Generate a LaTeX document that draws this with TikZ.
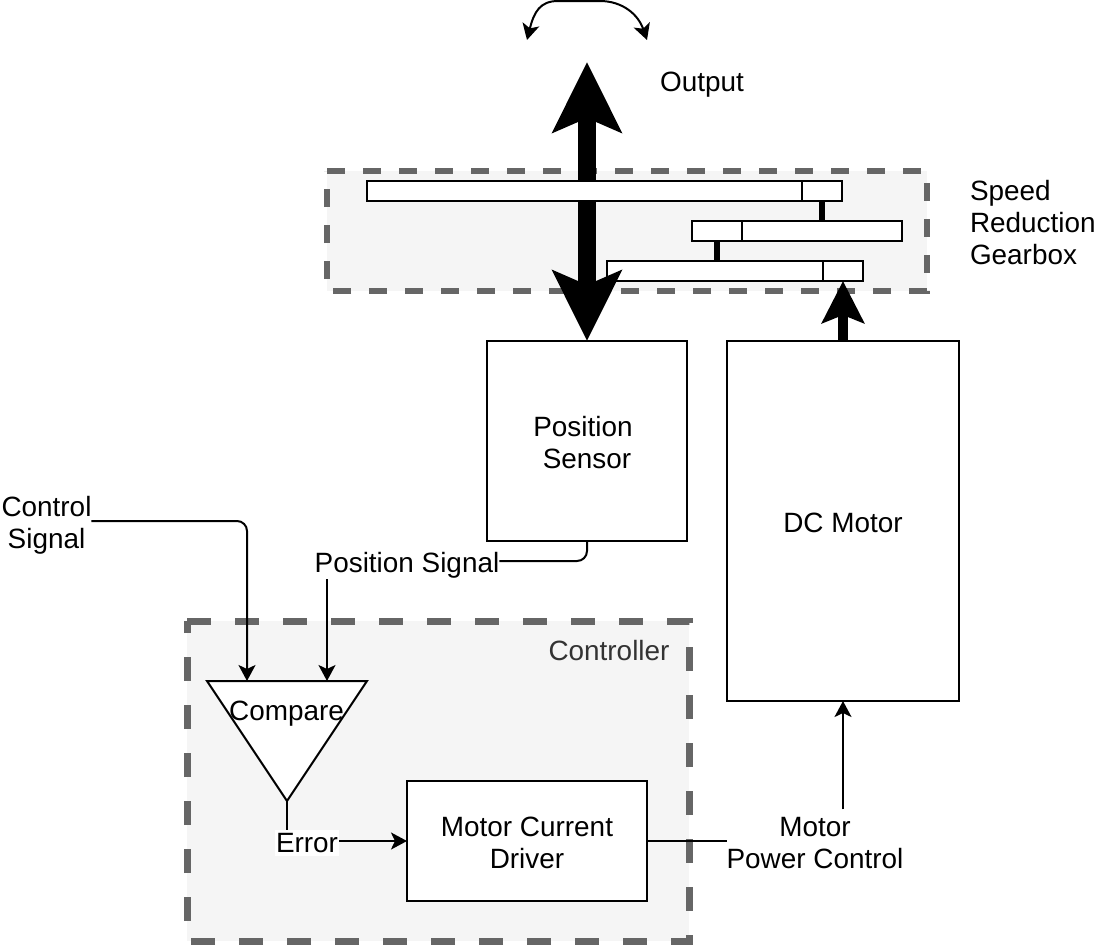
\documentclass[tikz,border=0pt]{standalone}
\usepackage{fontspec}
\setmainfont{Liberation Sans}
\usetikzlibrary{arrows.meta}
\usetikzlibrary{positioning}
\newcommand{\lowered}{\rule{0pt}{24pt}}

\begin{document}
\begin{tikzpicture}[x=1pt,y=-1pt,>={Stealth[length=16pt,width=17pt,inset=4pt]},line width=2pt,
	font=\fontsize{27.9}{32}\selectfont]
\tikzstyle{v}=[inner sep=0pt,outer sep=0pt,align=center]
\tikzstyle{block}=[v,draw,fill=white,anchor=north west]
\tikzstyle{gear}=[block,minimum height=20pt]
\tikzstyle{group}=[fill=black!4,draw=black!60,line join=miter]
\tikzstyle{link}=[line width=6pt]
\tikzstyle{shaft}=[line width=18pt,{Stealth[length=70pt,width=68pt,inset=14pt]}-{Stealth[length=70pt,width=68pt,inset=14pt]}]
\tikzstyle{drive}=[line width=10pt,-{Stealth[length=42pt,width=42pt,inset=8pt]}]
\useasboundingbox (0,0) rectangle (1096,946);
% groups
\draw[group,line width=5.5pt,dash pattern=on 18pt off 18pt] (327,171) -- (927,171) -- (927,291) -- (327,291) -- cycle;
\draw[group,line width=7pt,dash pattern=on 24pt off 24pt] (187,621) -- (689,621) -- (689,941) -- (187,941) -- cycle;
% blocks
\node[block,minimum width=200pt,minimum height=200pt]	(Sensor)	at (487,341)	{\lowered Position\hspace*{8pt}\\Sensor};
\node[block,minimum width=232pt,minimum height=360pt]	(Motor)		at (727,341)	{\lowered DC Motor};
\node[block,minimum width=240pt,minimum height=120pt]	(Driver)	at (407,781)	{\lowered Motor Current\\Driver};
% gears
\node[gear,minimum width=216pt]	(G3a)	at (607,261)	{};
\node[gear,minimum width=40pt]	(G3b)	[right=0pt of G3a]	{};
\node[gear,minimum width=50pt]	(G2a)	at (692,221)	{};
\node[gear,minimum width=160pt]	(G2b)	[right=0pt of G2a]	{};
\coordinate (OutTop) at (587,62);
\path[shaft] (OutTop) edge (Sensor.north);
\node[gear,minimum width=435pt]	(G1a)	at (367,181)	{};
\node[gear,minimum width=40pt]	(G1b)	[right=0pt of G1a]	{};
\draw[link] (G1b.south) -- (G1b.south |- G2b.north);
\draw[link] (G2a.south) -- (G2a.south |- G3a.north);
\draw[drive] (Motor.north -| G3b.south) -- (G3b.south);
% compare
\coordinate (CmpL) at (207,681);
\coordinate (CmpR) at (367,681);
\coordinate (CmpB) at (287,801);
\coordinate (CmpInA) at (247,681);
\coordinate (CmpInB) at (327,681);
\draw[fill=white] (CmpL) -- (CmpR) -- (CmpB) -- cycle;
\node[v]	(Compare)	at (286.5,714)	{Compare};
% labels
\node[v]	(Output)	at (702,85)		{Output};
\node[v,align=left,anchor=west]	(Speed)	at (970,223)	{Speed\\Reduction\\Gearbox};
\node[v,text=black!80]	(Ctrl)	at (609,650.5)	{Controller};
\node[v]	(CtrlSig)	at (46.5,525)	{Control\\Signal};
\node[v]	(PosSig)	at (407,565)	{Position Signal};
\node[v,fill=white,inner xsep=1pt,inner ysep=3pt]	(Err)	at (307,843)	{Error};
\node[v]	(MotorPow)	at (815,843)	{Motor\\Power Control};
% connectors
\coordinate (Sw1) at (527,40);
\coordinate (Sw2) at (647,40);
\draw[<->] (Sw1) .. controls (534,12) and (540,1) .. (558,1) -- (600,1) .. controls (622,1) and (638,14) .. (Sw2);
\draw[->,rounded corners=10pt] (CtrlSig.east |- 0,521) -| (CmpInA);
\draw[rounded corners=10pt] (Sensor.south) |- (PosSig.east |- 0,561);
\draw[->] (CmpInB |- PosSig.south) ++(0,1) -- (CmpInB);
\draw (CmpB) -- (CmpB |- Err.north);
\draw[->] (Err.east |- Driver.west) -- (Driver.west);
\draw (Driver.east) -- (MotorPow.west |- Driver.east);
\draw[->] (Motor.south |- MotorPow.north) ++(0,-8) -- (Motor.south);
\end{tikzpicture}
\end{document}
